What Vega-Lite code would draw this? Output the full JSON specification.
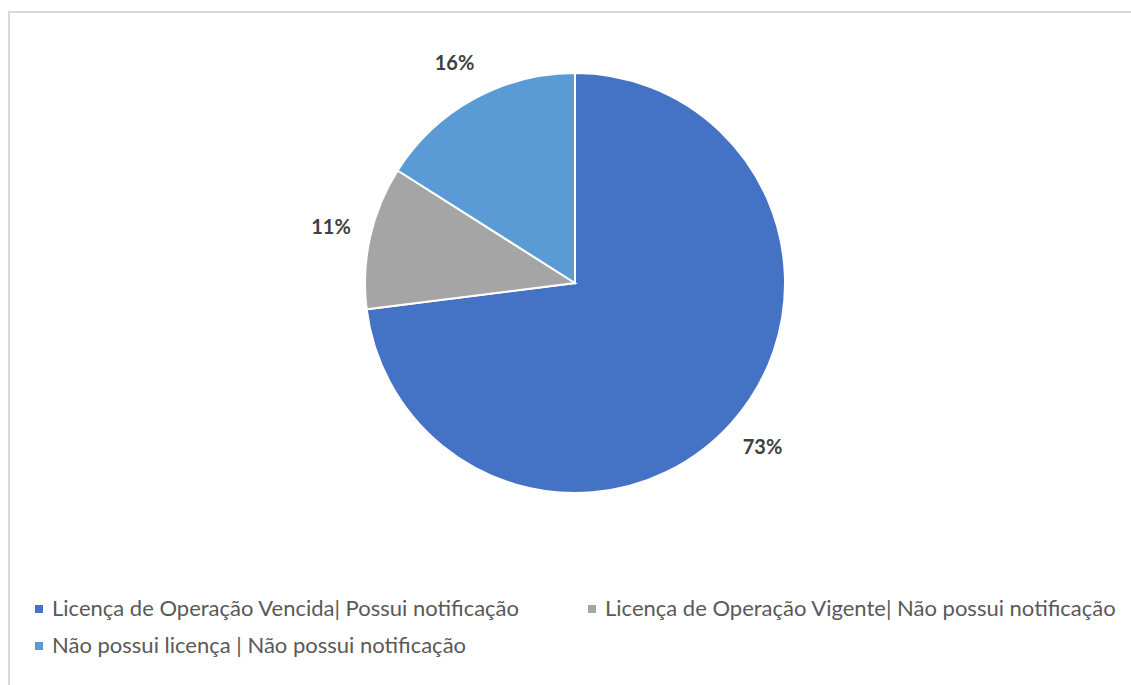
{
  "$schema": "https://vega.github.io/schema/vega-lite/v6.json",
  "autosize": {"type": "none"},
  "padding": {"top": 12, "left": 9, "right": 0, "bottom": 0},
  "width": 1132,
  "height": 700,
  "background": "white",
  "view": {"stroke": "#D9D9D9", "strokeWidth": 2},
  "config": {
    "font": "Lato"
  },
  "data": {
    "values": [
      {"categoria": "Licença de Operação Vencida| Possui notificação", "pct": 0.73},
      {"categoria": "Licença de Operação Vigente| Não possui notificação", "pct": 0.11},
      {"categoria": "Não possui licença | Não possui notificação", "pct": 0.16}
    ]
  },
  "encoding": {
    "theta": {"field": "pct", "type": "quantitative", "stack": true},
    "order": {"field": "categoria", "type": "ordinal", "sort": "ascending"}
  },
  "layer": [
    {
      "mark": {"type": "arc", "outerRadius": 210, "stroke": "white", "strokeWidth": 2, "yOffset": -79},
      "encoding": {
        "color": {
          "field": "categoria",
          "type": "nominal",
          "scale": {
            "domain": [
              "Licença de Operação Vencida| Possui notificação",
              "Licença de Operação Vigente| Não possui notificação",
              "Não possui licença | Não possui notificação"
            ],
            "range": ["#4472C4", "#A5A5A5", "#5B9BD5"]
          },
          "legend": {
            "title": null,
            "orient": "none",
            "legendX": 19,
            "legendY": 586,
            "direction": "horizontal",
            "columns": 2,
            "columnPadding": 61,
            "rowPadding": 15,
            "symbolType": "square",
            "symbolSize": 64,
            "symbolStrokeWidth": 0,
            "labelFont": "Lato",
            "labelFontSize": 22,
            "labelColor": "#595959",
            "labelLimit": 800,
            "labelOffset": 2,
            "gridAlign": "each"
          }
        }
      }
    },
    {
      "mark": {"type": "text", "radius": 250, "yOffset": -79, "font": "Lato", "fontSize": 20, "fontWeight": "bold", "fill": "#404040"},
      "encoding": {
        "detail": {"field": "categoria", "type": "nominal"},
        "text": {"field": "pct", "type": "quantitative", "format": ".0%"}
      }
    }
  ]
}
